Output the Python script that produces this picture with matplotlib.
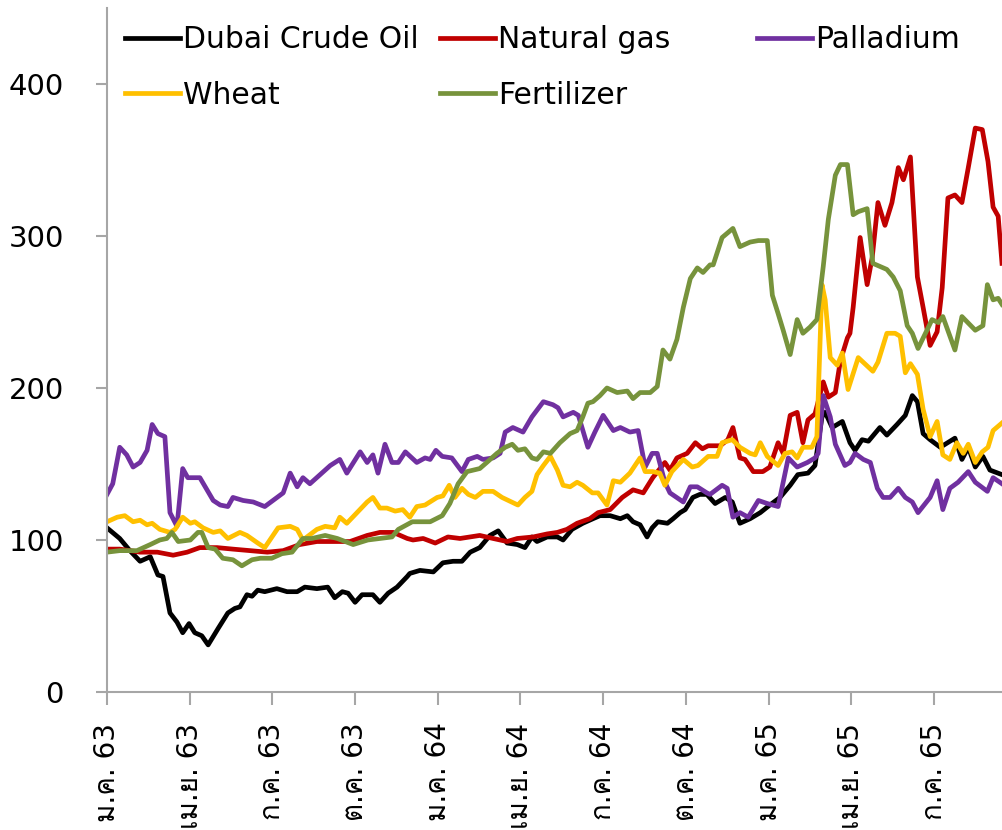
import matplotlib
matplotlib.use("Agg")
import matplotlib.pyplot as plt
from matplotlib import font_manager
from matplotlib.ft2font import FT2Font

# weekly price indices (Jan 2020 = 100), x in weeks since start of ม.ค. 63

dubai_wk = [0.0, 2.0, 3.6, 5.2, 6.8, 8.0, 8.8, 9.9, 11.0, 11.9, 12.9, 13.8, 14.9, 15.9, 17.5,
            19.0, 20.1, 20.9, 22.0, 22.8, 23.7, 24.8, 26.7, 28.3, 29.9, 31.1, 33.0, 34.7, 35.8,
            37.0, 37.9, 39.0, 40.1, 41.8, 42.9, 44.2, 45.6, 47.2, 47.6, 49.2, 51.3, 52.8, 54.4,
            55.8, 57.1, 58.6, 60.2, 61.5, 62.9, 64.5, 65.7, 66.8, 67.6, 69.2, 70.8, 71.7, 73.1,
            74.8, 76.4, 77.5, 79.1, 80.7, 81.8, 82.7, 83.8, 84.9, 85.7, 86.6, 88.1, 89.0, 90.1,
            90.9, 92.1, 93.2, 94.3, 95.6, 97.2, 98.3, 99.5, 101.1, 102.7, 104.2, 105.8, 107.4,
            108.6, 110.2, 111.3, 112.4, 112.9, 114.0, 115.6, 116.8, 117.6, 118.7, 119.7, 121.5,
            122.6, 124.2, 125.5, 126.6, 127.4, 128.3, 129.4, 131.0, 133.3, 134.4, 135.4, 136.5,
            137.7, 138.8, 140.7]
dubai = [108, 101, 93, 86, 89, 77, 76, 52, 46, 39, 45, 39, 37, 31, 42,
         52, 55, 56, 64, 63, 67, 66, 68, 66, 66, 69, 68, 69, 62,
         66, 65, 59, 64, 64, 59, 65, 69, 76, 78, 80, 79, 85, 86,
         86, 92, 95, 103, 106, 98, 97, 95, 102, 99, 102, 102, 100, 107,
         111, 114, 116, 116, 114, 116, 112, 110, 102, 108, 112, 111, 114, 118,
         120, 128, 130, 130, 124, 128, 125, 111, 114, 118, 123, 128, 136,
         143, 144, 149, 181, 184, 174, 178, 164, 159, 166, 165, 174,
         169, 176, 182, 195, 191, 170, 166, 161, 167, 153, 161, 148,
         155, 146, 143]

gas_wk = [0.0, 2.0, 5.2, 7.9, 10.4, 12.6, 14.6, 17.3, 19.8, 22.5, 25.2, 27.7, 30.3, 33.0, 35.5,
          38.2, 40.9, 42.9, 45.0, 47.2, 48.1, 49.7, 51.6, 53.6, 55.5, 58.6, 60.7, 62.9, 64.5,
          67.0, 69.2, 70.8, 72.3, 73.9, 75.9, 77.2, 79.1, 81.0, 82.7, 84.3, 85.8, 87.7, 88.5,
          89.6, 91.2, 92.5, 93.6, 94.5, 96.4, 97.6, 98.4, 99.5, 100.3, 101.6, 103.1, 104.2,
          105.5, 106.3, 107.4, 108.5, 109.4, 110.2, 111.3, 112.6, 113.4, 114.5, 115.3, 116.4,
          116.8, 117.3, 118.4, 119.5, 120.3, 121.2, 122.3, 123.4, 124.4, 125.2, 126.3, 127.4,
          128.3, 129.4, 130.5, 131.3, 132.2, 133.3, 134.4, 135.4, 136.5, 137.6, 138.5, 139.3,
          140.1, 140.7]
gas = [94, 94, 92, 92, 90, 92, 95, 95, 94, 93, 92, 93, 97, 99, 99,
       99, 103, 105, 105, 101, 100, 101, 98, 102, 101, 103, 101, 99, 101,
       102, 104, 105, 107, 111, 114, 118, 120, 128, 133, 131, 141, 151, 146,
       154, 157, 164, 160, 162, 162, 166, 174, 154, 153, 145, 145, 148,
       164, 157, 182, 184, 164, 179, 183, 204, 194, 197, 218, 233,
       236, 253, 299, 268, 286, 322, 307, 322, 345, 337, 352, 273,
       253, 228, 237, 266, 325, 327, 322, 345, 371, 370, 349, 319,
       313, 282]

pall_wk = [0.0, 0.9, 2.0, 3.1, 4.1, 5.2, 6.3, 7.1, 8.0, 9.1, 9.9, 11.0, 11.9, 12.7, 14.6, 16.7,
           17.8, 19.0, 19.8, 21.4, 23.0, 24.8, 27.7, 28.8, 29.9, 30.8, 31.9, 33.5, 35.1, 36.6,
           37.7, 39.8, 40.9, 41.8, 42.6, 43.7, 44.8, 45.8, 46.9, 48.7, 50.0, 50.8, 51.7, 52.7,
           54.2, 55.8, 56.8, 58.2, 59.1, 60.7, 61.8, 62.6, 63.8, 65.4, 66.8, 68.6, 70.1, 70.9,
           71.7, 73.3, 74.1, 75.6, 76.7, 78.0, 79.6, 80.7, 82.2, 83.5, 84.6, 85.7, 86.5, 87.7,
           88.5, 90.6, 91.7, 92.8, 94.3, 94.8, 96.7, 97.5, 98.4, 99.5, 100.8, 102.4, 103.8,
           105.5, 107.1, 108.5, 110.1, 111.3, 111.8, 112.6, 113.7, 114.5, 116.0, 116.8, 117.6,
           118.9, 120.0, 121.1, 122.0, 123.1, 124.4, 125.5, 126.6, 127.5, 129.4, 130.5, 131.4,
           132.5, 133.8, 135.4, 136.5, 138.4, 139.3, 140.7]
pall = [130, 137, 161, 156, 148, 151, 159, 176, 170, 168, 118, 109, 147, 141, 141, 126,
        123, 122, 128, 126, 125, 122, 131, 144, 135, 141, 137, 143, 149, 153,
        144, 158, 151, 156, 144, 163, 151, 151, 158, 151, 154, 153, 159, 155,
        154, 145, 153, 155, 153, 154, 157, 171, 174, 171, 181, 191, 189, 187,
        181, 184, 182, 161, 171, 182, 172, 174, 171, 172, 148, 157, 157, 138,
        131, 125, 135, 135, 131, 130, 136, 134, 115, 118, 115, 126, 124,
        122, 154, 148, 151, 154, 157, 195, 181, 163, 149, 151, 157,
        153, 151, 134, 128, 128, 134, 128, 125, 118, 128, 139, 120,
        134, 138, 145, 138, 132, 141, 137]

wheat_wk = [0.0, 1.6, 2.8, 4.1, 5.2, 6.3, 7.1, 8.3, 9.9, 10.7, 11.9, 13.1, 13.8, 15.1, 16.7,
            17.8, 19.0, 20.9, 22.0, 23.7, 24.8, 26.9, 28.8, 29.9, 30.8, 33.0, 34.3, 35.8, 36.6,
            37.7, 39.3, 40.9, 41.8, 42.9, 44.0, 45.3, 46.5, 47.6, 48.7, 50.0, 51.9, 52.8, 53.8,
            54.7, 55.8, 56.8, 57.9, 59.1, 60.7, 62.1, 63.1, 64.6, 65.7, 66.8, 67.6, 68.6, 69.7,
            70.8, 71.7, 72.8, 73.9, 74.8, 76.3, 77.2, 78.6, 79.6, 80.7, 82.2, 83.8, 84.6, 85.8,
            86.9, 87.7, 88.8, 90.6, 92.0, 92.9, 94.5, 95.9, 96.7, 98.3, 99.5, 101.1, 101.9,
            102.7, 103.8, 105.5, 106.6, 107.7, 108.5, 109.4, 110.8, 111.6, 112.4, 112.9, 113.7,
            114.8, 115.6, 116.5, 118.1, 120.4, 121.2, 122.6, 123.9, 124.7, 125.5, 126.3, 127.4,
            128.3, 129.4, 130.5, 131.4, 132.5, 133.6, 134.6, 135.4, 136.5, 137.6, 138.5, 139.3,
            140.7]
wheat = [112, 115, 116, 112, 113, 110, 111, 107, 105, 107, 115, 111, 112, 108, 105,
         106, 101, 105, 103, 98, 95, 108, 109, 107, 100, 107, 109, 108, 115,
         111, 118, 125, 128, 121, 121, 119, 120, 115, 122, 123, 128, 129, 136,
         128, 134, 130, 128, 132, 132, 128, 126, 123, 128, 132, 143, 149, 155,
         146, 136, 135, 138, 136, 131, 131, 123, 139, 138, 144, 154, 145, 145,
         144, 136, 145, 153, 148, 149, 155, 155, 164, 166, 161, 157, 156,
         164, 155, 149, 157, 158, 154, 161, 161, 168, 268, 258, 220,
         215, 223, 199, 220, 211, 217, 236, 236, 234, 210, 216, 209,
         186, 168, 178, 156, 153, 164, 157, 163, 151, 158, 161, 172,
         177]

fert_wk = [0.0, 2.0, 4.7, 6.8, 8.3, 9.4, 10.2, 11.2, 13.1, 14.3, 14.9, 15.9, 17.0, 18.2, 19.8,
           21.2, 22.8, 24.1, 25.9, 27.5, 29.1, 30.8, 32.2, 34.3, 36.2, 38.7, 41.0, 42.9, 44.8,
           45.8, 48.0, 50.8, 52.7, 53.9, 55.2, 56.6, 58.6, 59.7, 61.3, 62.6, 63.7, 64.6, 65.7,
           66.8, 67.6, 68.6, 69.7, 71.2, 72.8, 73.9, 74.8, 75.6, 76.4, 77.5, 78.6, 80.2, 81.8,
           82.7, 83.8, 85.4, 86.5, 87.4, 88.5, 89.6, 90.6, 91.7, 92.8, 93.7, 94.8, 95.3, 96.7,
           98.4, 99.5, 101.1, 102.4, 103.8, 104.6, 105.5, 106.3, 107.4, 108.5, 109.4, 110.5,
           111.6, 112.6, 113.4, 114.5, 115.3, 116.4, 117.3, 118.1, 119.5, 120.4, 122.6, 123.6,
           124.7, 125.8, 126.6, 127.5, 128.9, 129.7, 130.7, 131.4, 133.3, 134.4, 136.5, 137.7,
           138.4, 139.3, 140.1, 140.7]
fert = [92, 93, 93, 97, 100, 101, 105, 99, 100, 105, 105, 95, 94, 88, 87,
        83, 87, 88, 88, 91, 92, 101, 101, 103, 101, 97, 100, 101, 102,
        107, 112, 112, 116, 124, 137, 145, 147, 151, 157, 161, 163, 159, 160,
        154, 153, 158, 157, 164, 170, 172, 181, 190, 191, 195, 200, 197, 198,
        193, 197, 197, 201, 225, 219, 232, 253, 272, 279, 276, 281, 281, 299,
        305, 293, 296, 297, 297, 261, 249, 238, 222, 245, 236, 240,
        245, 280, 311, 340, 347, 347, 314, 316, 318, 282, 278, 273,
        264, 241, 236, 226, 238, 245, 243, 247, 225, 247, 238, 241,
        268, 258, 259, 255]

tick_weeks = [0, 13, 26, 39, 52, 65, 78, 91, 104, 117, 130]
tick_labels = ["ม.ค. 63", "เม.ย. 63", "ก.ค. 63", "ต.ค. 63", "ม.ค. 64", "เม.ย. 64",
               "ก.ค. 64", "ต.ค. 64", "ม.ค. 65", "เม.ย. 65", "ก.ค. 65"]

# fonts: a Thai capable face for the month labels, plain sans for the rest
names = {f.name for f in font_manager.fontManager.ttflist}
latin = "DejaVu Sans Condensed" if "DejaVu Sans Condensed" in names else "DejaVu Sans"
thai = []
for f in font_manager.fontManager.ttflist:
    try:
        if ord("ม") in FT2Font(f.fname).get_charmap() and f.name not in thai:
            thai.append(f.name)
    except Exception:
        pass
plt.rcParams["font.family"] = [latin] + thai[:1] + ["DejaVu Sans"]

fig = plt.figure(figsize=(10.02, 8.30), dpi=100)
ax = fig.add_axes([107 / 1002, 1 - 692 / 830, 1 - 107 / 1002, 684 / 830])

LW = 3.4
l_dubai, = ax.plot(dubai_wk, dubai, color="#000000", lw=LW, label="Dubai Crude Oil")
l_gas, = ax.plot(gas_wk, gas, color="#C00000", lw=LW, label="Natural gas")
l_pall, = ax.plot(pall_wk, pall, color="#7030A0", lw=LW, label="Palladium")
l_wheat, = ax.plot(wheat_wk, wheat, color="#FFC000", lw=LW, label="Wheat")
l_fert, = ax.plot(fert_wk, fert, color="#77933C", lw=LW, label="Fertilizer")
for ln in (l_fert, l_gas, l_wheat, l_dubai, l_pall):
    ln.set_solid_joinstyle("round")

ax.set_xlim(0, 140.7)
ax.set_ylim(0, 450)
ax.set_yticks([0, 100, 200, 300, 400])
ax.set_xticks(tick_weeks)
ax.set_xticklabels(tick_labels, rotation=90, va="top", ha="center")

for s in ("top", "right"):
    ax.spines[s].set_visible(False)
for s in ("left", "bottom"):
    ax.spines[s].set_color("#A6A6A6")
    ax.spines[s].set_linewidth(1.5)
ax.tick_params(axis="y", length=8, width=1.5, color="#A6A6A6", labelsize=21, pad=23)
ax.tick_params(axis="x", length=9, width=1.5, color="#A6A6A6", labelsize=20, pad=13)

# legend laid out like the Excel one: three fixed columns
columns = [([l_dubai, l_wheat], 125), ([l_gas, l_fert], 440), ([l_pall], 757)]
for handles, xpix in columns:
    fig.legend(handles=handles, loc="upper left", bbox_to_anchor=(xpix / 1002, 1 - 25 / 830),
               frameon=False, fontsize=21.5, handlelength=1.85, handletextpad=0.08,
               labelspacing=0.9, borderpad=0, borderaxespad=0)

fig.savefig("out.png", dpi=100)
